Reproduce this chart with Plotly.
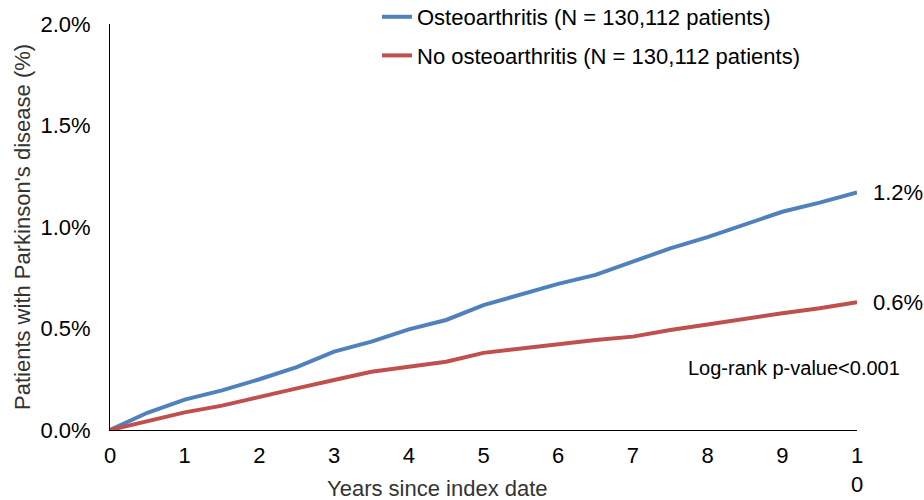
import plotly.graph_objects as go

years = [0, 0.5, 1, 1.5, 2, 2.5, 3, 3.5, 4, 4.5, 5, 5.5, 6, 6.5, 7, 7.5, 8, 8.5, 9, 9.5, 10]
oa_pct = [0, 0.085, 0.15, 0.195, 0.25, 0.31, 0.386, 0.435, 0.496, 0.542, 0.615, 0.665,
          0.72, 0.764, 0.83, 0.895, 0.95, 1.015, 1.075, 1.12, 1.17]
no_oa_pct = [0, 0.042, 0.087, 0.12, 0.165, 0.205, 0.246, 0.287, 0.312, 0.336, 0.38, 0.402,
             0.424, 0.443, 0.46, 0.493, 0.52, 0.55, 0.575, 0.60, 0.63]
series_names = ["Osteoarthritis (N = 130,112 patients)", "No osteoarthritis (N = 130,112 patients)"]
end_labels = ["1.2%", "0.6%"]
x_ticks = [0, 1, 2, 3, 4, 5, 6, 7, 8, 9, 10]
x_ticktext = ["0", "1", "2", "3", "4", "5", "6", "7", "8", "9", "1<br>0"]
y_ticks = [0, 0.5, 1.0, 1.5, 2.0]
y_ticktext = ["0.0%", "0.5%", "1.0%", "1.5%", "2.0%"]

FONT = "Liberation Sans, Arial, sans-serif"
colors = ["#4F81BD", "#C0504D"]
L, R, T, B = 110, 67, 24, 70
PW, PH = 924 - L - R, 500 - T - B

fig = go.Figure()
for i, (vals, name) in enumerate([(oa_pct, series_names[0]), (no_oa_pct, series_names[1])]):
    fig.add_trace(go.Scatter(x=years, y=vals, mode="lines", name=name,
                             legendgroup=str(i),
                             line=dict(color=colors[i], width=4)))
    fig.add_annotation(x=1, xref="paper", y=vals[-1], yref="y", text=end_labels[i],
                       showarrow=False, xanchor="left", xshift=14,
                       font=dict(size=22, color="black", family=FONT))

fig.add_annotation(x=10, y=0.305, xref="x", yref="y", text="Log-rank p-value<0.001",
                   showarrow=False, xanchor="right", xshift=45,
                   font=dict(size=20, color="black", family=FONT))
fig.add_annotation(x=(437 - L) / PW, xref="paper", y=-(488 - (T + PH)) / PH, yref="paper",
                   yanchor="middle", text="Years since index date", showarrow=False,
                   font=dict(size=22, color="#333333", family=FONT))
fig.add_annotation(x=(22 - L) / PW, xref="paper", y=0.5, yref="paper", textangle=-90,
                   xanchor="center", yanchor="middle",
                   text="Patients with Parkinson's disease (%)", showarrow=False,
                   font=dict(size=22, color="#333333", family=FONT))

fig.update_layout(
    width=924, height=500,
    margin=dict(l=L, r=R, t=T, b=B, autoexpand=False),
    paper_bgcolor="white", plot_bgcolor="white",
    font=dict(family=FONT, size=22, color="black"),
    showlegend=True,
    legend=dict(x=(377 - L) / PW, y=1 + 28 / PH, xanchor="left", yanchor="top",
                bgcolor="rgba(0,0,0,0)", tracegroupgap=7,
                font=dict(size=22, color="black", family=FONT)),
    xaxis=dict(range=[0, 10], tickvals=x_ticks, ticktext=x_ticktext,
               showgrid=False, zeroline=False, showline=True, linecolor="black", linewidth=1,
               ticks="outside", ticklen=6, tickcolor="rgba(0,0,0,0)",
               tickfont=dict(size=22, family=FONT)),
    yaxis=dict(range=[0, 2.0], tickvals=y_ticks, ticktext=y_ticktext,
               showgrid=False, zeroline=False, showline=True, linecolor="black", linewidth=1,
               ticks="outside", ticklen=14, tickcolor="rgba(0,0,0,0)",
               tickfont=dict(size=22, family=FONT)),
)

fig.write_html("out.html", config={"displayModeBar": False},
               post_script="document.body.style.margin='0px';document.body.style.overflow='hidden';")
